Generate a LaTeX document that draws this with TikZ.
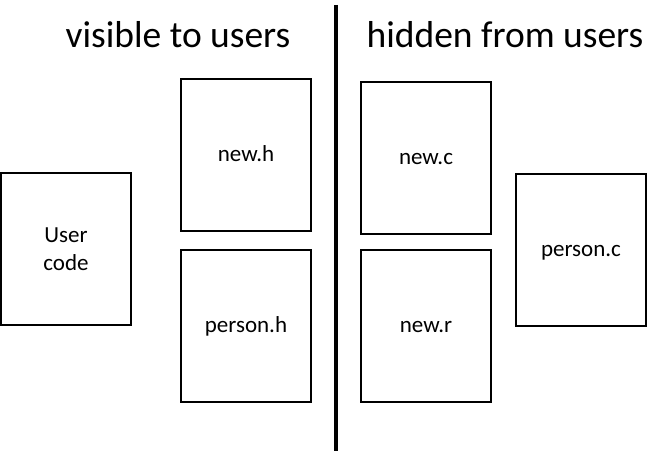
\documentclass[tikz,border=0pt]{standalone}
\usepackage{fontspec}
\setmainfont{Carlito}
\begin{document}
\begin{tikzpicture}[x=1pt,y=-1pt,
  filebox/.style={draw,line width=1.6pt,minimum width=130pt,minimum height=152pt,inner sep=0pt,align=center,font=\fontsize{23}{28}\selectfont},
  onebox/.style={filebox,text height=17pt,text depth=3pt},
  heading/.style={font=\fontsize{37.5}{42}\selectfont,inner sep=0pt}]
\useasboundingbox (0,0) rectangle (667,454);
\node[filebox] (user) at (66,249) {User\\code};
\node[onebox] (newh) at (246,155) {new.h};
\node[onebox] (personh) at (246,326) {person.h};
\node[onebox] (newc) at (426,158) {new.c};
\node[onebox] (newr) at (426,326) {new.r};
\node[onebox] (personc) at (581,250) {person.c};
\coordinate (top) at (336,5);
\coordinate (bot) at (336,451);
\draw[line width=3.5pt] (top) -- (bot);
\node[heading] (vis) at (178,35) {visible to users};
\node[heading] (hid) at (505,35) {hidden from users};
\end{tikzpicture}
\end{document}
